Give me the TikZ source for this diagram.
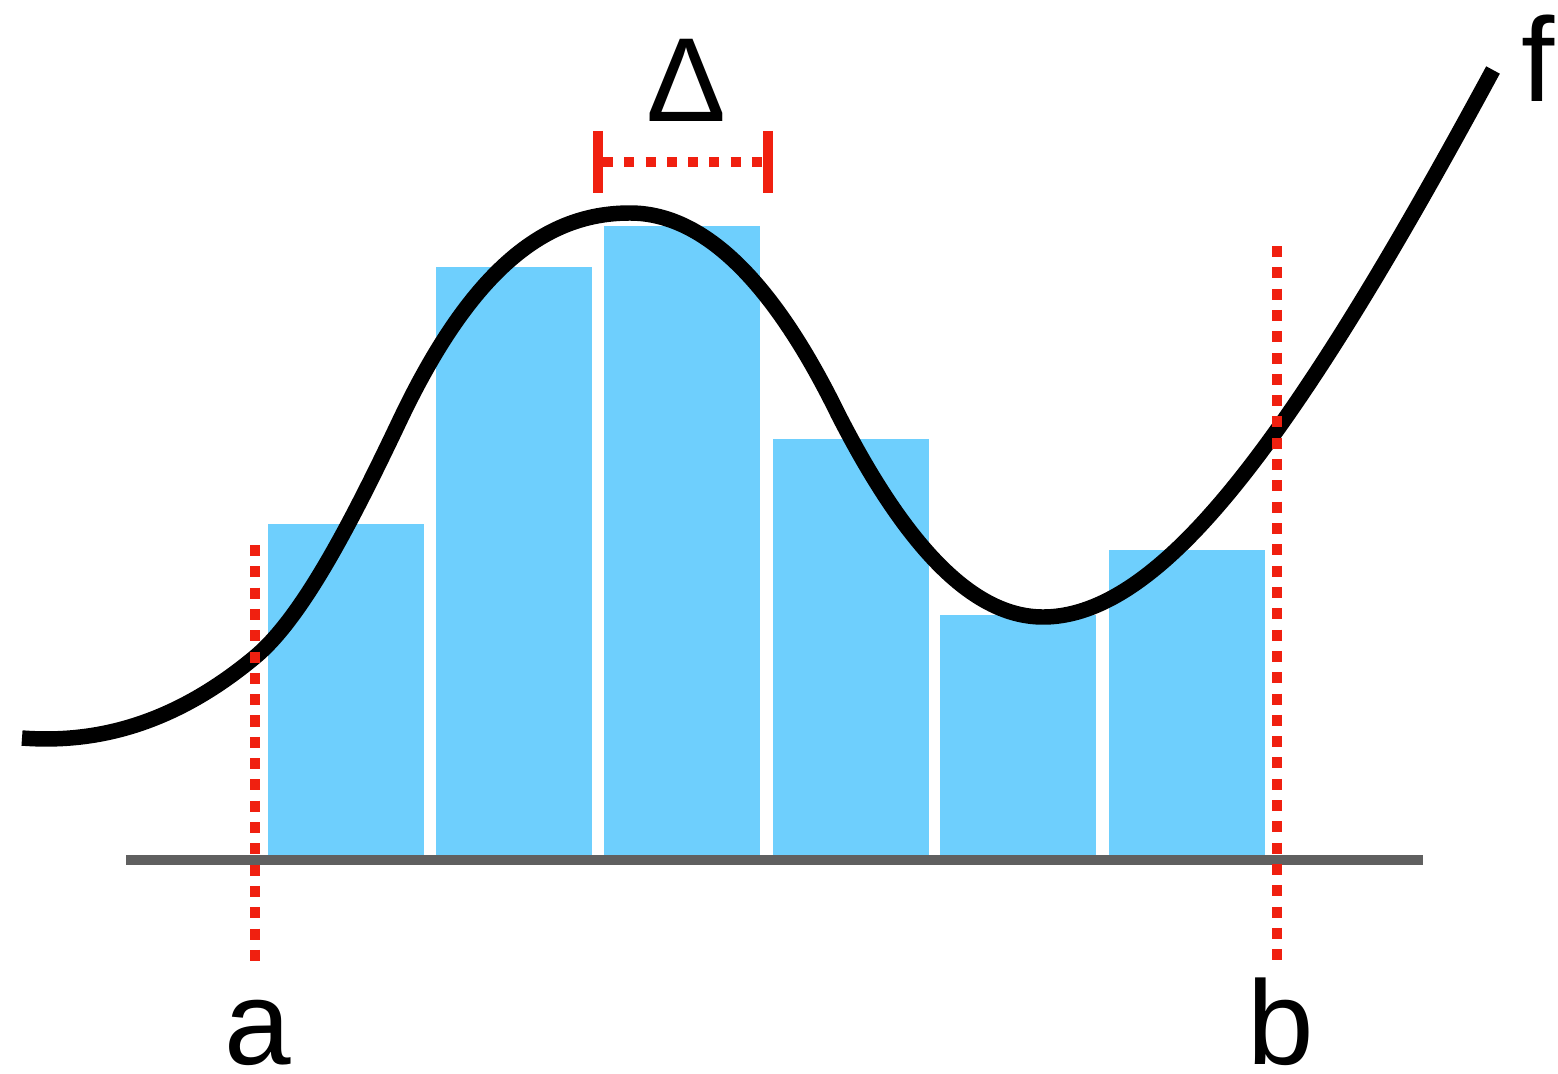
\documentclass[tikz,border=0pt]{standalone}
\usepackage{fontspec}
\setmainfont{Liberation Sans}
\usetikzlibrary{positioning}
\definecolor{barblue}{RGB}{110,207,253}
\definecolor{dotred}{RGB}{240,32,16}
\definecolor{axisgray}{RGB}{96,96,96}

\begin{document}
\begin{tikzpicture}[x=0.01cm, y=-0.01cm,
  bar/.style  = {fill=barblue, draw=none},
  dots/.style = {dotred, line width=3.1pt, dash pattern=on 3.13pt off 2.93pt},
  tick/.style = {dotred, line width=2.85pt},
  lbl/.style  = {anchor=base, inner sep=0pt, font=\fontsize{34}{40}\selectfont}
]
  \useasboundingbox (0,0) rectangle (1558,1073);

  % rectangles under the curve
  \foreach \x/\t in {268/524, 436/267, 604/226, 773/439, 940/615, 1109/550}
    \fill[bar] (\x,\t) rectangle (\x+156,855);

  % axis
  \draw[axisgray, line width=2.85pt] (126,860) -- (1423,860);

  % the function
  \draw[line width=4.4pt] (22,738)
    .. controls (100,744) and (177,722) .. (255,657)
    .. controls (303,617) and (352,521) .. (400,420)
    .. controls (477,258) and (553,213) .. (630,213)
    .. controls (700,213) and (770,275) .. (838,414)
    .. controls (908,551) and (975,617) .. (1043,617)
    .. controls (1121,617) and (1199,539) .. (1277,430)
    .. controls (1349,329) and (1421,203) .. (1493,70);

  % labels
  \node[lbl] (la)    at (258,1064) {a};
  \node[lbl] (lb)    at (1281,1064) {b};
  \node[lbl] (lf)    at (1538,102) {f};
  \node[lbl] (delta) at (686,122) {Δ};

  % interval bounds
  \coordinate (atop) at (255,545);
  \coordinate (abot) at (255,961);
  \coordinate (btop) at (1277,246);
  \coordinate (bbot) at (1277,961);
  \draw[dots] (atop) -- (abot);
  \draw[dots] (btop) -- (bbot);

  % width of one rectangle
  \coordinate (dl) at (598,162);
  \coordinate (dr) at (768,162);
  \draw[tick] ([yshift=0.31cm]dl) -- ([yshift=-0.31cm]dl);
  \draw[tick] ([yshift=0.31cm]dr) -- ([yshift=-0.31cm]dr);
  \draw[tick, dash pattern=on 2.85pt off 3.2pt] ([xshift=0.05cm]dl) -- ([xshift=-0.06cm]dr);
\end{tikzpicture}
\end{document}
